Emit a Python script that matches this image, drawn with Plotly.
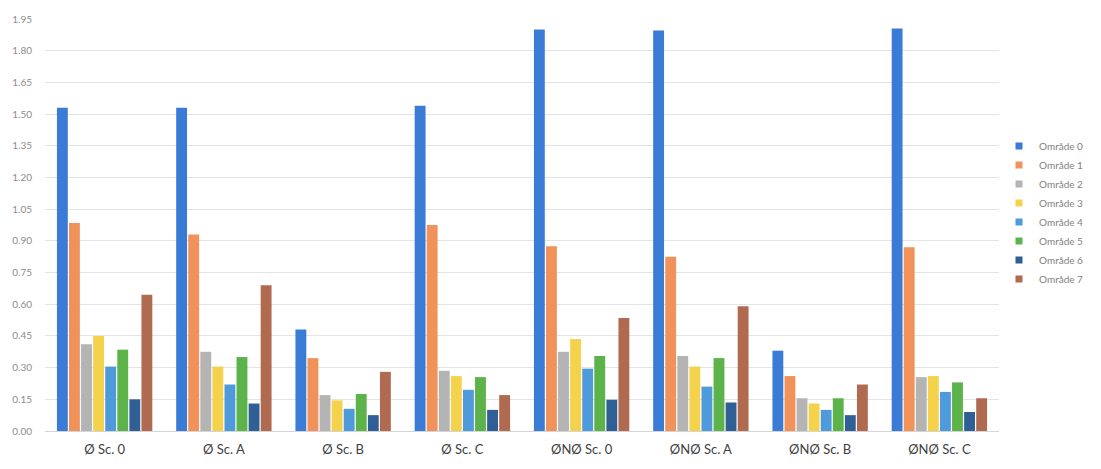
import plotly.graph_objects as go

# Scenario categories along the x axis
categories = ["Ø Sc. 0", "Ø Sc. A", "Ø Sc. B", "Ø Sc. C",
              "ØNØ Sc. 0", "ØNØ Sc. A", "ØNØ Sc. B", "ØNØ Sc. C"]

# One value list per area
omrade_0 = [1.53, 1.53, 0.48, 1.54, 1.90, 1.895, 0.38, 1.905]
omrade_1 = [0.985, 0.93, 0.345, 0.975, 0.875, 0.825, 0.26, 0.87]
omrade_2 = [0.41, 0.375, 0.17, 0.285, 0.375, 0.355, 0.155, 0.255]
omrade_3 = [0.45, 0.305, 0.145, 0.26, 0.435, 0.305, 0.13, 0.26]
omrade_4 = [0.305, 0.22, 0.105, 0.195, 0.295, 0.21, 0.10, 0.185]
omrade_5 = [0.385, 0.35, 0.175, 0.255, 0.355, 0.345, 0.155, 0.23]
omrade_6 = [0.15, 0.13, 0.075, 0.10, 0.148, 0.135, 0.075, 0.09]
omrade_7 = [0.645, 0.69, 0.28, 0.17, 0.535, 0.59, 0.22, 0.155]

series_names = ["Område 0", "Område 1", "Område 2", "Område 3",
                "Område 4", "Område 5", "Område 6", "Område 7"]
series_values = [omrade_0, omrade_1, omrade_2, omrade_3,
                 omrade_4, omrade_5, omrade_6, omrade_7]
colors = ["#3A7BD5", "#F0925A", "#B4B4B4", "#F5D24C",
          "#4E9ADB", "#5BB34A", "#2F5F94", "#B06A50"]

y_ticks = [round(0.15 * i, 2) for i in range(14)]

fig = go.Figure()
for name, vals, col in zip(series_names, series_values, colors):
    fig.add_trace(go.Bar(x=categories, y=vals, name=name, marker_color=col,
                         marker_line_width=0, showlegend=False,
                         legendgroup=name))
# small square legend keys
for name, col in zip(series_names, colors):
    fig.add_trace(go.Scatter(x=[None], y=[None], mode="markers", name=name,
                             legendgroup=name,
                             marker=dict(symbol="square", size=7, color=col)))

fig.update_layout(
    width=1101, height=469,
    margin=dict(l=45, r=93, t=18, b=37),
    paper_bgcolor="white", plot_bgcolor="white",
    barmode="group", bargap=0.19, bargroupgap=0.1,
    font=dict(family="Lato, 'Open Sans', sans-serif", color="#595959"),
    legend=dict(x=1.0, xanchor="left", y=0.727, yanchor="top",
                font=dict(size=10, color="#7f7f7f"),
                itemwidth=30, tracegroupgap=0, bgcolor="rgba(0,0,0,0)"),
    xaxis=dict(showgrid=False, tickfont=dict(size=13, color="#404040"),
               ticklabelstandoff=9, showline=False, zeroline=False),
    yaxis=dict(range=[0, 1.95], tickvals=y_ticks,
               ticktext=[f"{v:.2f}" for v in y_ticks],
               tickfont=dict(size=10, color="#8c8c8c"),
               showgrid=True, gridcolor="#e4e4e4", gridwidth=1,
               zeroline=True, zerolinecolor="#d4d4d4", zerolinewidth=1,
               ticklabelstandoff=12),
)

fig.write_html("out.html")
